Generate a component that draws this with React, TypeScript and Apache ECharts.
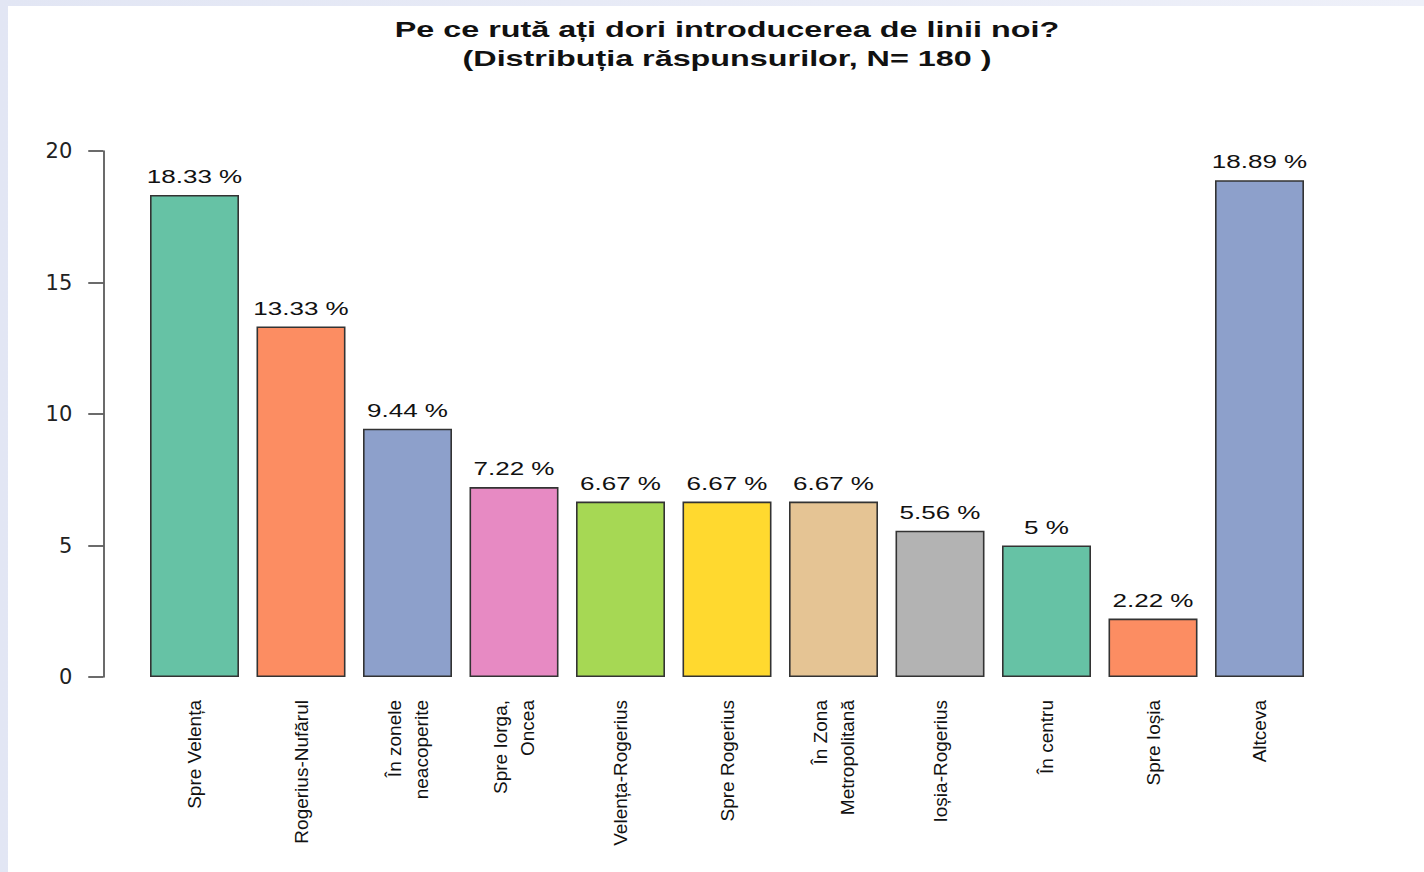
import React, { useEffect, useRef } from "react";
import * as echarts from "echarts";

const titleLines = [
  "Pe ce rută ați dori introducerea de linii noi?",
  "(Distribuția răspunsurilor, N= 180 )",
];

const categories = [
  "Spre Velența",
  "Rogerius-Nufărul",
  "În zonele\nneacoperite",
  "Spre Iorga,\nOncea",
  "Velența-Rogerius",
  "Spre Rogerius",
  "În Zona\nMetropolitană",
  "Ioșia-Rogerius",
  "În centru",
  "Spre Ioșia",
  "Altceva",
];

const values = [18.33, 13.33, 9.44, 7.22, 6.67, 6.67, 6.67, 5.56, 5, 2.22, 18.89];

const barColors = [
  "#66C2A5",
  "#FC8D62",
  "#8DA0CB",
  "#E78AC3",
  "#A6D854",
  "#FFD92F",
  "#E5C494",
  "#B3B3B3",
  "#66C2A5",
  "#FC8D62",
  "#8DA0CB",
];

const yTicks = { min: 0, max: 20, interval: 5 };

const FONT = '"Liberation Sans", Arial, Helvetica, sans-serif';

export default function App() {
  const ref = useRef<HTMLDivElement>(null);

  useEffect(() => {
    if (!ref.current) return;
    const chart = echarts.init(ref.current, null, { renderer: "svg" });
    const labelTexts = values.map((v) => `${v} %`);

    chart.setOption({
      animation: false,
      backgroundColor: "transparent",
      grid: { left: 141.25, right: 111.25, top: 151, bottom: 195, containLabel: false },
      graphic: [
        {
          type: "text",
          x: 727,
          y: 43.5,
          scaleX: 1.47,
          style: {
            text: titleLines.join("\n"),
            font: `bold 22px ${FONT}`,
            fill: "#111",
            align: "center",
            verticalAlign: "middle",
            lineHeight: 29,
          },
        },
      ],
      xAxis: {
        type: "category",
        data: categories,
        axisLine: { show: false },
        axisTick: { show: false },
        axisLabel: {
          interval: 0,
          rotate: 90,
          margin: 23,
          fontFamily: FONT,
          fontSize: 19,
          lineHeight: 27,
          color: "#111",
        },
      },
      yAxis: {
        type: "value",
        min: yTicks.min,
        max: yTicks.max,
        interval: yTicks.interval,
        offset: 38,
        splitLine: { show: false },
        axisLine: { show: true, lineStyle: { color: "#3a3a3a", width: 1.5 } },
        axisTick: { show: true, length: 15, lineStyle: { color: "#3a3a3a", width: 1.5 } },
        axisLabel: {
          margin: 31,
          fontFamily: '"DejaVu Sans", sans-serif',
          fontSize: 21,
          color: "#222",
        },
      },
      series: [
        {
          type: "bar",
          barWidth: 89,
          data: values.map((v, i) => ({
            value: v,
            itemStyle: { color: barColors[i] },
          })),
          itemStyle: { borderColor: "#333333", borderWidth: 1.6 },
        },
        {
          type: "custom",
          z: 5,
          data: values.map((v, i) => [i, v]),
          encode: { x: 0, y: 1 },
          renderItem: (params: any, api: any) => {
            const p = api.coord([api.value(0), api.value(1)]);
            return {
              type: "text",
              x: p[0],
              y: p[1] - 9,
              scaleX: 1.37,
              style: {
                text: labelTexts[params.dataIndex],
                font: `19px ${FONT}`,
                fill: "#111",
                align: "center",
                verticalAlign: "bottom",
              },
            };
          },
        },
      ],
    });

    return () => chart.dispose();
  }, []);

  return (
    <div
      style={{
        position: "fixed",
        left: 0,
        top: 0,
        width: 1424,
        height: 872,
        background: "linear-gradient(to right, #E2E6F4, #EEF0F9)",
        overflow: "hidden",
      }}
    >
      <div
        style={{
          position: "absolute",
          left: 8,
          top: 6,
          width: 1416,
          height: 866,
          background: "#FFFFFF",
        }}
      />
      <div
        ref={ref}
        style={{ position: "absolute", left: 0, top: 0, width: 1424, height: 872 }}
      />
    </div>
  );
}
